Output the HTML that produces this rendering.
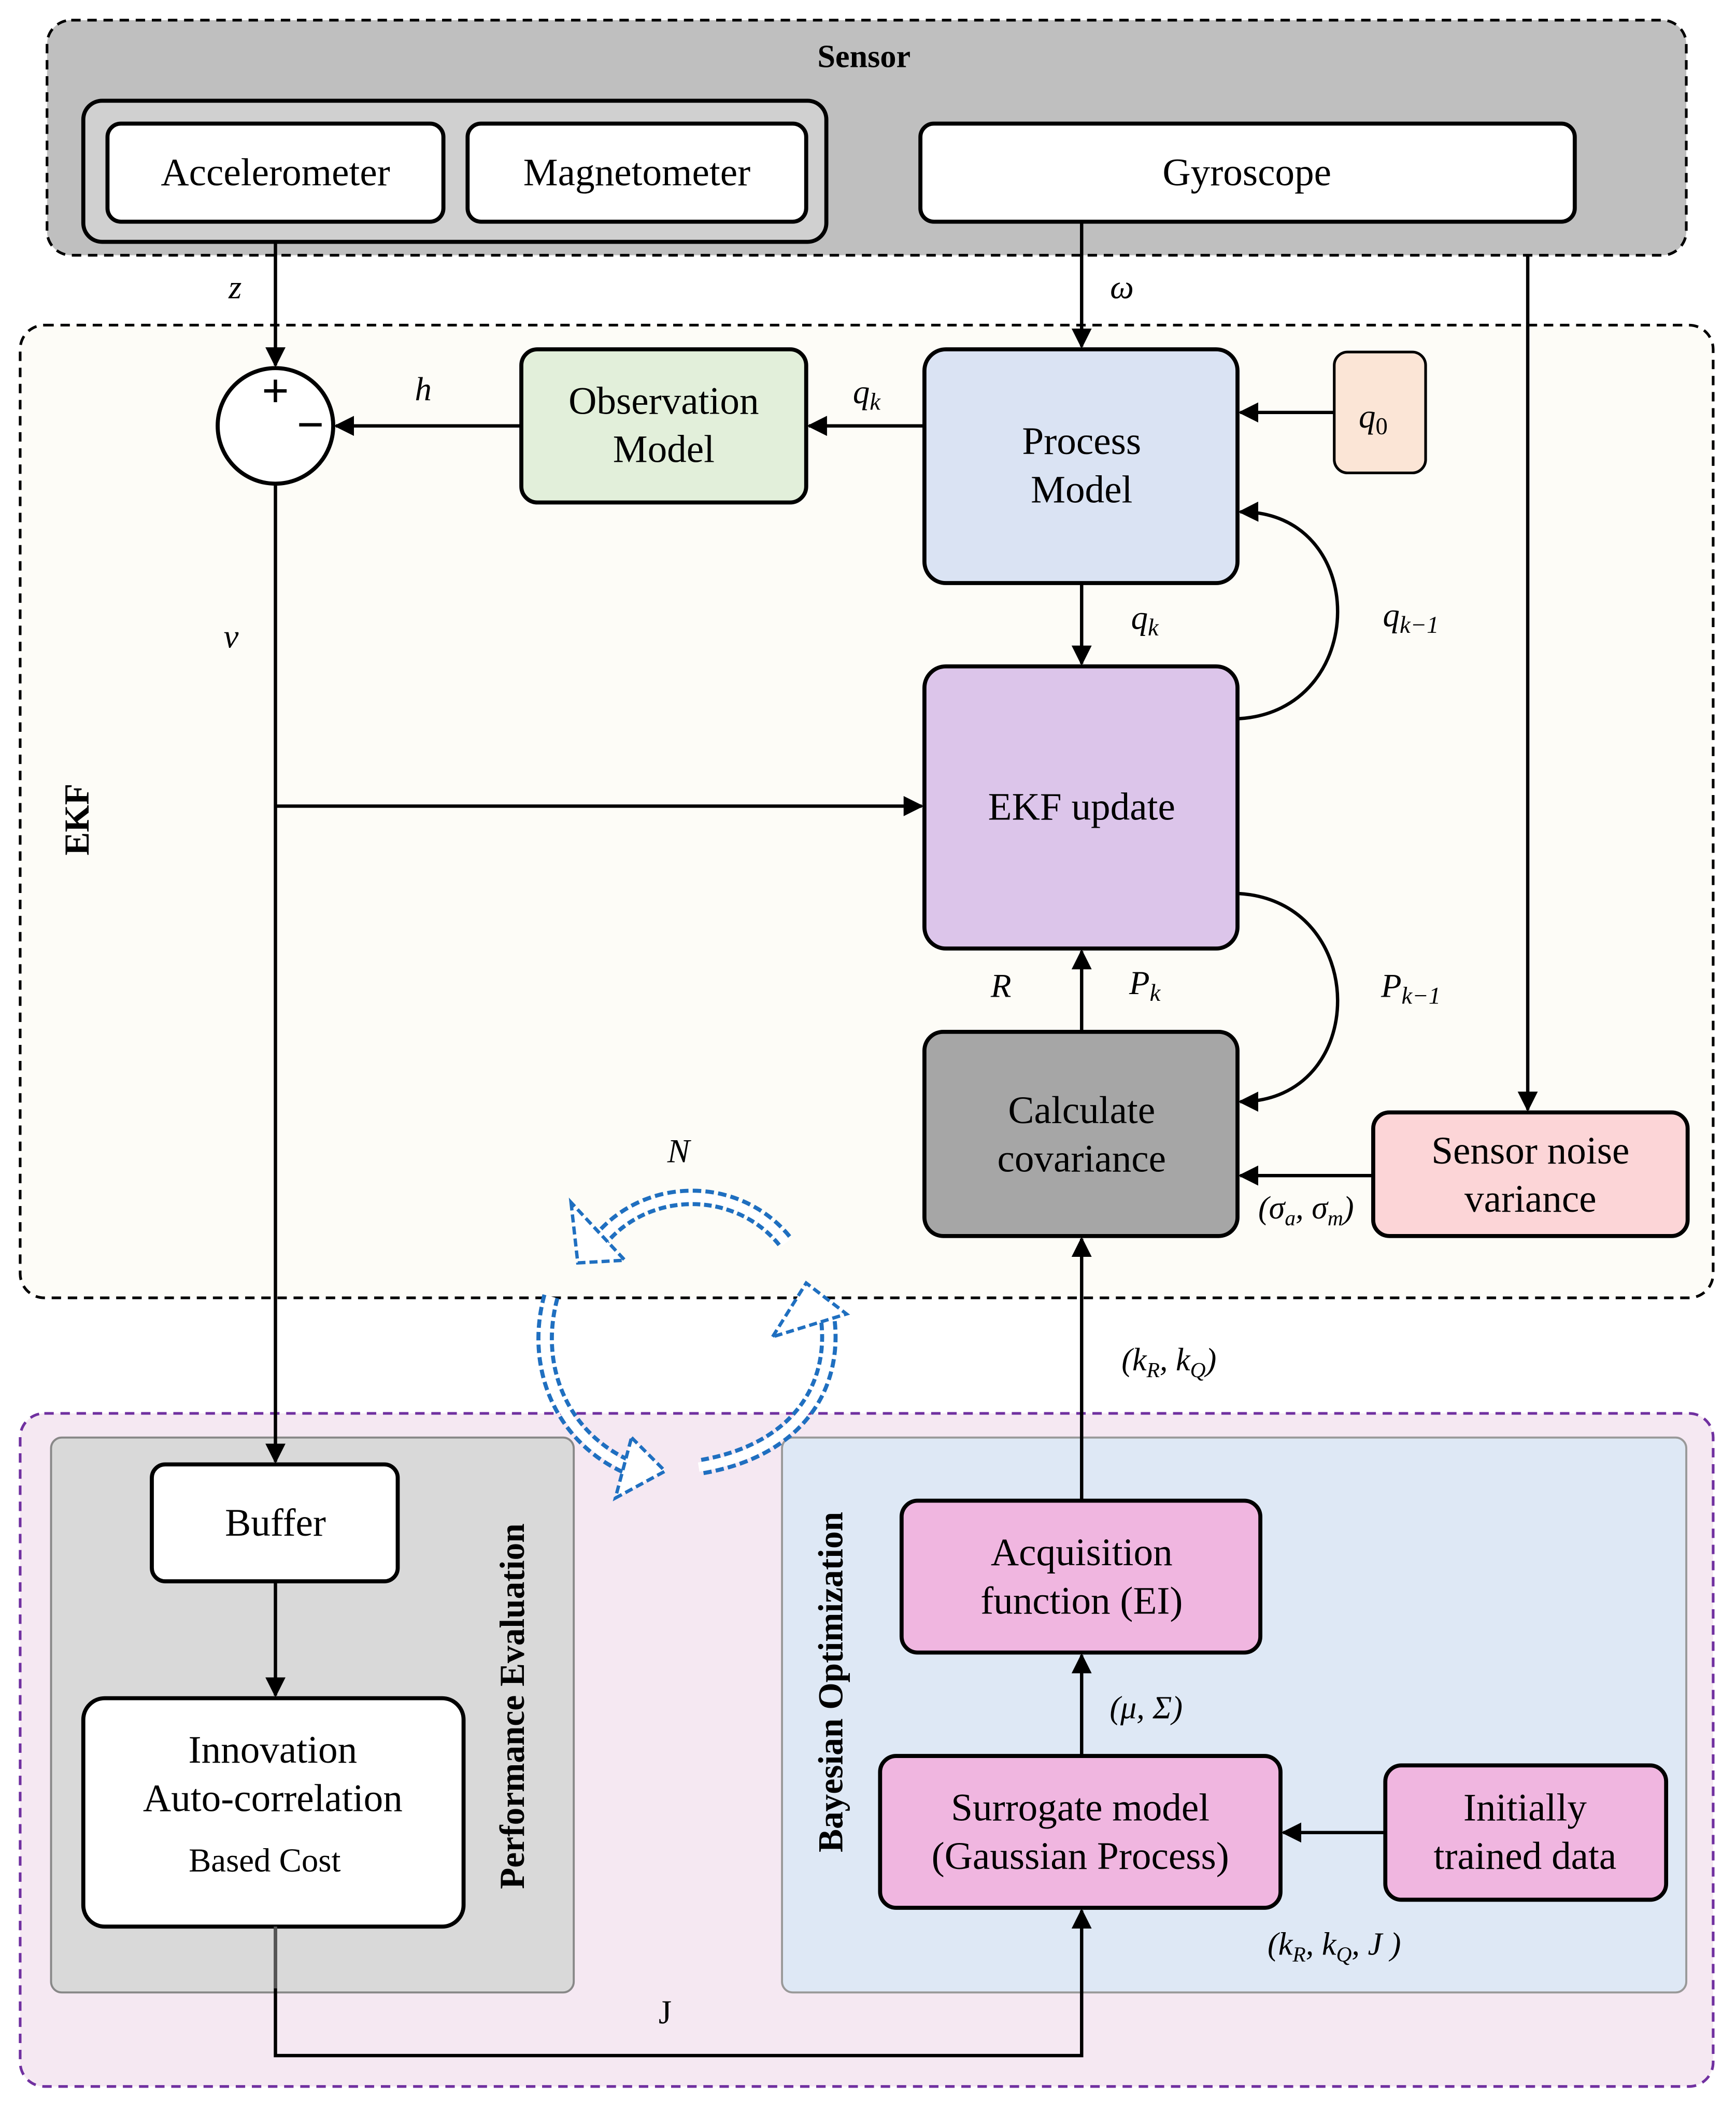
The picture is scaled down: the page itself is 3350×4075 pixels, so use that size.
<!DOCTYPE html>
<html><head><meta charset="utf-8"><style>
html,body{margin:0;padding:0;background:#fff}
svg{display:block}
text{font-family:"Liberation Serif",serif;fill:#000}
.b{font-size:29px;text-anchor:middle}
.i{font-style:italic;font-size:25px;text-anchor:middle}
</style></head><body>
<svg width="3350" height="4075" viewBox="0 0 1292 1572" preserveAspectRatio="none" xmlns="http://www.w3.org/2000/svg">
<defs>
<marker id="a" viewBox="0 0 10 10" refX="9" refY="5" markerWidth="6" markerHeight="6" orient="auto-start-reverse"><path d="M0,0 L10,5 L0,10 z" fill="#000"/></marker>
</defs>
<!-- Sensor -->
<rect x="35" y="15" width="1220" height="175" rx="18" fill="#bfbfbf" stroke="#000" stroke-width="2" stroke-dasharray="7,5"/>
<text x="643" y="50" style="font-size:24px;font-weight:bold;text-anchor:middle">Sensor</text>
<rect x="62" y="75" width="553" height="105" rx="14" fill="#d0d0d0" stroke="#000" stroke-width="3"/>
<rect x="80" y="92" width="250" height="73" rx="10" fill="#fff" stroke="#000" stroke-width="3"/>
<text class="b" x="205" y="138">Accelerometer</text>
<rect x="348" y="92" width="252" height="73" rx="10" fill="#fff" stroke="#000" stroke-width="3"/>
<text class="b" x="474" y="138">Magnetometer</text>
<rect x="685" y="92" width="487" height="73" rx="10" fill="#fff" stroke="#000" stroke-width="3"/>
<text class="b" x="928" y="138">Gyroscope</text>
<!-- EKF -->
<rect x="15" y="242" width="1260" height="724" rx="18" fill="#fdfcf7" stroke="#000" stroke-width="2" stroke-dasharray="7,5"/>
<text transform="translate(66,610) rotate(-90)" style="font-size:26px;font-weight:bold;text-anchor:middle">EKF</text>
<circle cx="205" cy="317" r="43" fill="#fff" stroke="#000" stroke-width="3"/>
<text x="205" y="303" style="font-size:36px;font-weight:bold;text-anchor:middle">+</text>
<text x="231" y="328" style="font-size:36px;font-weight:bold;text-anchor:middle">−</text>
<line x1="205" y1="180" x2="205" y2="272" stroke="#000" stroke-width="2.5" marker-end="url(#a)"/>
<text class="i" x="175" y="222">z</text>
<rect x="388" y="260" width="212" height="114" rx="12" fill="#e2efda" stroke="#000" stroke-width="3"/>
<text class="b" x="494" y="308">Observation</text><text class="b" x="494" y="344">Model</text>
<line x1="388" y1="317" x2="250" y2="317" stroke="#000" stroke-width="2.5" marker-end="url(#a)"/>
<text class="i" x="315" y="298">h</text>
<rect x="688" y="260" width="233" height="174" rx="16" fill="#dae3f3" stroke="#000" stroke-width="3"/>
<text class="b" x="805" y="338">Process</text><text class="b" x="805" y="374">Model</text>
<line x1="688" y1="317" x2="602" y2="317" stroke="#000" stroke-width="2.5" marker-end="url(#a)"/>
<text class="i" x="645" y="300">q<tspan font-size="18" dy="5">k</tspan></text>
<rect x="993" y="262" width="68" height="90" rx="10" fill="#fbe5d6" stroke="#000" stroke-width="2"/>
<text class="i" x="1022" y="318">q<tspan font-size="18" dy="5" font-style="normal">0</tspan></text>
<line x1="993" y1="307" x2="923" y2="307" stroke="#000" stroke-width="2.5" marker-end="url(#a)"/>
<line x1="805" y1="165" x2="805" y2="258" stroke="#000" stroke-width="2.5" marker-end="url(#a)"/>
<text class="i" x="835" y="222">ω</text>
<line x1="805" y1="434" x2="805" y2="494" stroke="#000" stroke-width="2.5" marker-end="url(#a)"/>
<text class="i" x="852" y="468">q<tspan font-size="18" dy="5">k</tspan></text>
<rect x="688" y="496" width="233" height="210" rx="16" fill="#dcc5ea" stroke="#000" stroke-width="3"/>
<text class="b" x="805" y="610">EKF update</text>
<path d="M921,535 C1020,530 1020,380 923,381" fill="none" stroke="#000" stroke-width="2.5" marker-end="url(#a)"/>
<text class="i" x="1050" y="466">q<tspan font-size="18" dy="5">k−1</tspan></text>
<path d="M921,665 C1020,670 1020,820 923,820" fill="none" stroke="#000" stroke-width="2.5" marker-end="url(#a)"/>
<text class="i" x="1050" y="742">P<tspan font-size="18" dy="5">k−1</tspan></text>
<rect x="688" y="768" width="233" height="152" rx="14" fill="#a6a6a6" stroke="#000" stroke-width="3"/>
<text class="b" x="805" y="836">Calculate</text><text class="b" x="805" y="872">covariance</text>
<line x1="805" y1="768" x2="805" y2="708" stroke="#000" stroke-width="2.5" marker-end="url(#a)"/>
<text class="i" x="852" y="740">P<tspan font-size="18" dy="5">k</tspan></text>
<text class="i" x="745" y="742">R</text>
<rect x="1022" y="828" width="234" height="92" rx="12" fill="#fcd5d7" stroke="#000" stroke-width="3"/>
<text class="b" x="1139" y="866">Sensor noise</text><text class="b" x="1139" y="902">variance</text>
<line x1="1022" y1="875" x2="923" y2="875" stroke="#000" stroke-width="2.5" marker-end="url(#a)"/>
<text class="i" x="972" y="907" style="font-size:24px">(σ<tspan font-size="16" dy="5">a</tspan><tspan dy="-5">, σ</tspan><tspan font-size="16" dy="5">m</tspan><tspan dy="-5">)</tspan></text>
<line x1="1137" y1="190" x2="1137" y2="826" stroke="#000" stroke-width="2.5" marker-end="url(#a)"/>
<text class="i" x="505" y="865">N</text>
<!-- Bottom -->
<rect x="15" y="1052" width="1260" height="501" rx="18" fill="#f5e8f2" stroke="#7030a0" stroke-width="2" stroke-dasharray="7,5"/>
<rect x="38" y="1070" width="389" height="413" rx="8" fill="#d9d9d9" stroke="#888" stroke-width="1.5"/>
<text transform="translate(390,1270) rotate(-90)" style="font-size:26px;font-weight:bold;text-anchor:middle">Performance Evaluation</text>
<!-- v line -->
<line x1="205" y1="360" x2="205" y2="1088" stroke="#000" stroke-width="2.5" marker-end="url(#a)"/>
<line x1="205" y1="600" x2="686" y2="600" stroke="#000" stroke-width="2.5" marker-end="url(#a)"/>
<text class="i" x="172" y="482">v</text>
<rect x="113" y="1090" width="183" height="87" rx="10" fill="#fff" stroke="#000" stroke-width="3"/>
<text class="b" x="205" y="1143">Buffer</text>
<line x1="205" y1="1177" x2="205" y2="1262" stroke="#000" stroke-width="2.5" marker-end="url(#a)"/>
<rect x="62" y="1264" width="283" height="170" rx="16" fill="#fff" stroke="#000" stroke-width="3"/>
<text class="b" x="203" y="1312">Innovation</text><text class="b" x="203" y="1348">Auto-correlation</text>
<text x="197" y="1393" style="font-size:25px;text-anchor:middle">Based Cost</text>
<rect x="582" y="1070" width="673" height="413" rx="8" fill="#dee8f5" stroke="#999" stroke-width="1.5"/>
<text transform="translate(627,1252) rotate(-90)" style="font-size:26px;font-weight:bold;text-anchor:middle">Bayesian Optimization</text>
<rect x="671" y="1117" width="267" height="113" rx="12" fill="#f0b6e0" stroke="#000" stroke-width="3"/>
<text class="b" x="805" y="1165">Acquisition</text><text class="b" x="805" y="1201">function (EI)</text>
<line x1="805" y1="1118" x2="805" y2="922" stroke="#000" stroke-width="2.5" marker-end="url(#a)"/>
<text class="i" x="870" y="1020" style="font-size:24px">(k<tspan font-size="16" dy="5">R</tspan><tspan dy="-5">, k</tspan><tspan font-size="16" dy="5">Q</tspan><tspan dy="-5">)</tspan></text>
<rect x="655" y="1307" width="298" height="113" rx="12" fill="#f0b6e0" stroke="#000" stroke-width="3"/>
<text class="b" x="804" y="1355">Surrogate model</text><text class="b" x="804" y="1391">(Gaussian Process)</text>
<line x1="805" y1="1307" x2="805" y2="1232" stroke="#000" stroke-width="2.5" marker-end="url(#a)"/>
<text class="i" x="853" y="1279" style="font-size:24px">(μ, Σ)</text>
<rect x="1031" y="1314" width="209" height="100" rx="12" fill="#f0b6e0" stroke="#000" stroke-width="3"/>
<text class="b" x="1135" y="1355">Initially</text><text class="b" x="1135" y="1391">trained data</text>
<line x1="1031" y1="1364" x2="955" y2="1364" stroke="#000" stroke-width="2.5" marker-end="url(#a)"/>
<text class="i" x="993" y="1455" style="font-size:24px">(k<tspan font-size="16" dy="5">R</tspan><tspan dy="-5">, k</tspan><tspan font-size="16" dy="5">Q</tspan><tspan dy="-5">,  J )</tspan></text>
<path d="M205,1434 L205,1530 L805,1530 L805,1422" fill="none" stroke="#000" stroke-width="2.5" marker-end="url(#a)"/>
<line x1="205" y1="1434" x2="205" y2="1480" stroke="#555" stroke-width="2.5"/>
<text x="495" y="1506" style="font-size:25px;text-anchor:middle">J</text>
<!-- circular arrows -->
<g fill="none">
<g stroke="#1f6fc0" stroke-width="13" stroke-dasharray="6,3">
<path d="M445,925 C480,880 550,880 585,925"/>
<path d="M410,965 C395,1020 420,1075 475,1095"/>
<path d="M615,975 C625,1030 595,1080 520,1092"/>
</g>
<g stroke="#fff" stroke-width="7">
<path d="M445,925 C480,880 550,880 585,925"/>
<path d="M410,965 C395,1020 420,1075 475,1095"/>
<path d="M615,975 C625,1030 595,1080 520,1092"/>
</g>
<g stroke="#1f6fc0" stroke-width="2.5" stroke-dasharray="6,3" fill="#fff">
<path d="M425,895 L430,940 L465,938 Z"/>
<path d="M470,1070 L495,1095 L458,1115 Z"/>
<path d="M575,995 L600,955 L630,978 Z"/>
</g>
</g>
</svg>
</body></html>
